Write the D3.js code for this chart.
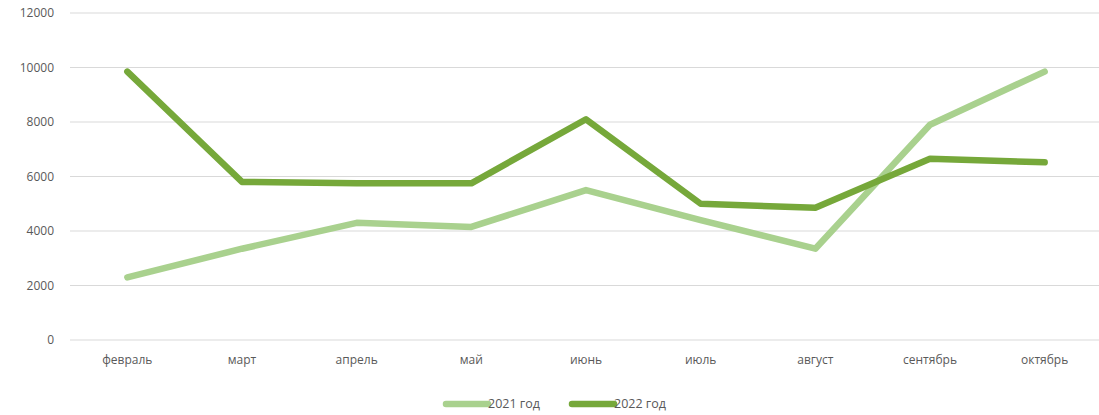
<!DOCTYPE html>
<html>
<head>
<meta charset="utf-8">
<script src="https://cdn.jsdelivr.net/npm/d3@7"></script>
<style>
  body { margin: 0; background: #fff; }
  text { font-family: "Open Sans", "Liberation Sans", sans-serif; fill: #595959; }
</style>
</head>
<body>
<div id="chart"></div>
<script>
// data
const months = ["февраль", "март", "апрель", "май", "июнь", "июль", "август", "сентябрь", "октябрь"];
const values2021 = [2300, 3350, 4300, 4150, 5500, 4400, 3350, 7900, 9850];
const values2022 = [9850, 5800, 5750, 5750, 8100, 5000, 4850, 6650, 6520];
const seriesNames = ["2021 год", "2022 год"];
const yTicks = [0, 2000, 4000, 6000, 8000, 10000, 12000];

const W = 1099, H = 415;
const margin = { top: 13, right: -3, bottom: 75, left: 70 };
const width = W - margin.left - margin.right,
      height = H - margin.top - margin.bottom;

const svg = d3.select("#chart")
    .append("svg")
    .attr("width", W)
    .attr("height", H)
    .append("g")
    .attr("transform", `translate(${margin.left},${margin.top})`);

const x = d3.scaleBand()
    .domain(months)
    .range([0, width]);

const y = d3.scaleLinear()
    .domain([0, 12000])
    .range([height, 0]);

// gridlines
svg.selectAll(".grid")
    .data(yTicks)
    .join("line")
    .attr("x1", 0)
    .attr("x2", width)
    .attr("y1", d => y(d))
    .attr("y2", d => y(d))
    .attr("stroke", "#d9d9d9")
    .attr("stroke-width", 1);

// y axis labels
const yAxis = svg.append("g")
    .call(d3.axisLeft(y).tickValues(yTicks).tickSize(0).tickPadding(16).tickFormat(d3.format("d")));
yAxis.select(".domain").remove();
yAxis.selectAll("text").style("font-size", "12px").attr("fill", "#595959");

// x axis labels
const xAxis = svg.append("g")
    .attr("transform", `translate(0,${height})`)
    .call(d3.axisBottom(x).tickSize(0).tickPadding(15));
xAxis.select(".domain").remove();
xAxis.selectAll("text").style("font-size", "12px").attr("fill", "#595959");

const color = d3.scaleOrdinal()
    .domain(seriesNames)
    .range(["#a9d18e", "#76a83a"]);

const series = [
    { name: seriesNames[0], values: values2021 },
    { name: seriesNames[1], values: values2022 }
];

const line = d3.line()
    .x((d, i) => x(months[i]) + x.bandwidth() / 2)
    .y(d => y(d));

svg.selectAll(".series")
    .data(series)
    .join("path")
    .attr("fill", "none")
    .attr("stroke", d => color(d.name))
    .attr("stroke-width", 6.5)
    .attr("stroke-linecap", "round")
    .attr("stroke-linejoin", "round")
    .attr("d", d => line(d.values));

// legend
const legend = svg.append("g")
    .attr("transform", `translate(0,${height + 64})`);

const legendX = [376, 502];
series.forEach((s, i) => {
    const g = legend.append("g").attr("transform", `translate(${legendX[i]},0)`);
    g.append("line")
        .attr("x1", 0).attr("x2", 42)
        .attr("y1", 0).attr("y2", 0)
        .attr("stroke", color(s.name))
        .attr("stroke-width", 6.5)
        .attr("stroke-linecap", "round");
    g.append("text")
        .attr("x", 42)
        .attr("y", 0)
        .attr("dy", "0.35em")
        .style("font-size", "12.5px")
        .text(s.name);
});
</script>
</body>
</html>
